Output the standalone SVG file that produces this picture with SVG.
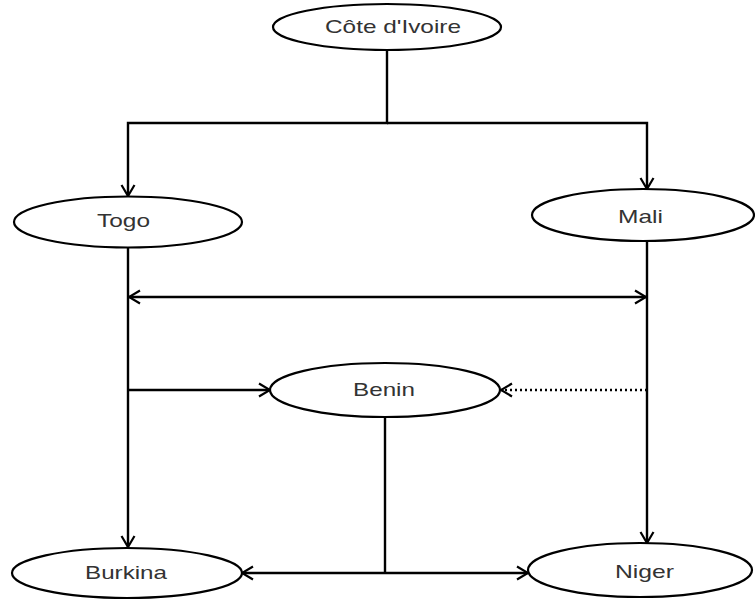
<svg xmlns="http://www.w3.org/2000/svg" width="755" height="600" viewBox="0 0 755 600">
  <style>
    .node ellipse { fill: #ffffff; stroke: #000000; stroke-width: 2.2; }
    .node text { font-family: "Liberation Sans", Arial, sans-serif; font-size: 19px; fill: #333333; text-anchor: middle; }
    .edge { fill: none; stroke: #000000; stroke-width: 2.4; }
    .dotted { stroke-dasharray: 2 3; }
  </style>
  <defs>
    <marker id="arrow" markerUnits="userSpaceOnUse" markerWidth="14" markerHeight="16" refX="12" refY="8" orient="auto-start-reverse">
      <path d="M1,1.5 L12,8 L1,14.5" fill="none" stroke="#000000" stroke-width="2.2"/>
    </marker>
  </defs>
  <rect width="755" height="600" fill="#ffffff"/>

  <g id="connectors">
    <path class="edge" d="M387,50 V123 H128 V196" marker-end="url(#arrow)"/>
    <path class="edge" d="M387,123 H647 V189" marker-end="url(#arrow)"/>
    <path class="edge" d="M128,248 V547" marker-end="url(#arrow)"/>
    <path class="edge" d="M647,242 V543" marker-end="url(#arrow)"/>
    <path class="edge" d="M129,297 H646" marker-start="url(#arrow)" marker-end="url(#arrow)"/>
    <path class="edge" d="M128,390 H270" marker-end="url(#arrow)"/>
    <path class="edge dotted" d="M647,390 H501" marker-end="url(#arrow)"/>
    <path class="edge" d="M385,417 V573"/>
    <path class="edge" d="M385,573 H242" marker-end="url(#arrow)"/>
    <path class="edge" d="M385,573 H528" marker-end="url(#arrow)"/>
  </g>

  <g id="node-cote" class="node">
    <ellipse cx="387" cy="27" rx="114" ry="23"/>
    <text x="393" y="33" textLength="136" lengthAdjust="spacingAndGlyphs">Côte d'Ivoire</text>
  </g>
  <g id="node-togo" class="node">
    <ellipse cx="128" cy="222" rx="114" ry="25.5"/>
    <text x="123.5" y="227" textLength="53" lengthAdjust="spacingAndGlyphs">Togo</text>
  </g>
  <g id="node-mali" class="node">
    <ellipse cx="643" cy="215" rx="111" ry="26"/>
    <text x="640.5" y="223" textLength="45" lengthAdjust="spacingAndGlyphs">Mali</text>
  </g>
  <g id="node-benin" class="node">
    <ellipse cx="385" cy="390" rx="115" ry="27"/>
    <text x="384" y="396" textLength="62" lengthAdjust="spacingAndGlyphs">Benin</text>
  </g>
  <g id="node-burkina" class="node">
    <ellipse cx="127" cy="573" rx="115" ry="25"/>
    <text x="126" y="579" textLength="82" lengthAdjust="spacingAndGlyphs">Burkina</text>
  </g>
  <g id="node-niger" class="node">
    <ellipse cx="640" cy="570" rx="112" ry="27"/>
    <text x="644.5" y="578" textLength="59" lengthAdjust="spacingAndGlyphs">Niger</text>
  </g>
</svg>
